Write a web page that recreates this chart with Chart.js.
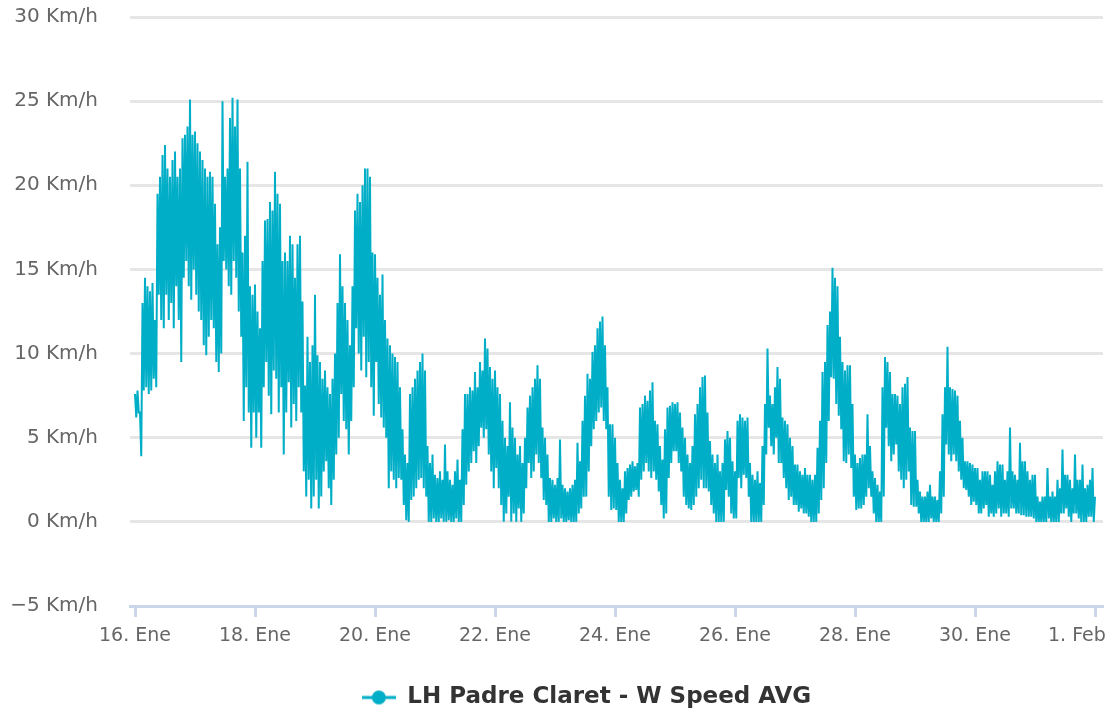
<!DOCTYPE html>
<html><head><meta charset="utf-8">
<script src="https://cdn.jsdelivr.net/npm/chart.js@4/dist/chart.umd.min.js"></script>
<style>html,body{margin:0;padding:0;background:#fff}#wrap{width:1111px;height:713px;position:relative}</style>
</head><body><div id="wrap"><canvas id="c" width="1111" height="713"></canvas></div>
<script>
const seriesName = "LH Padre Claret - W Speed AVG";
const tickLabels = ["16. Ene","18. Ene","20. Ene","22. Ene","24. Ene","26. Ene","28. Ene","30. Ene","1. Feb"];
const tickDays = [0,2,4,6,8,10,12,14,16];
const yTicks = [-5,0,5,10,15,20,25,30];
const stepHours = 1; // hourly readings from 16. Ene 00:00
// highest reading within each hour (Km/h)
const speedMax = [
 7.6,7.8,6.5,13.0,14.5,14.0,13.7,14.2,12.0,19.5,20.5,21.8,
 22.4,21.0,20.5,21.5,22.0,20.5,21.0,22.8,23.0,23.5,25.1,23.0,
 23.2,22.5,22.0,21.5,21.0,20.5,20.8,20.5,18.9,16.5,17.5,25.0,
 20.5,21.0,24.0,25.2,23.5,25.1,21.0,16.0,17.0,21.4,14.0,13.5,
 14.1,12.5,11.5,15.5,17.9,18.0,19.0,18.5,20.8,19.5,18.9,15.5,
 16.0,15.5,17.0,16.5,14.5,16.5,17.0,13.1,8.1,11.0,9.5,10.5,
 13.5,9.9,9.5,8.5,9.0,8.0,7.6,8.5,10.0,13.0,15.9,14.0,
 13.0,12.0,10.5,14.0,18.5,19.5,19.0,20.0,21.0,21.0,20.5,16.0,
 15.9,14.5,13.5,14.7,12.0,10.9,10.5,10.0,9.8,9.5,8.0,5.5,
 4.0,3.5,7.6,8.0,8.5,9.0,9.5,10.0,9.0,4.5,3.5,4.0,
 2.8,2.6,3.0,2.5,4.6,3.0,2.5,2.2,3.0,3.7,2.5,5.5,
 7.6,7.6,8.0,7.8,8.9,8.0,9.5,9.0,10.9,10.3,9.2,8.5,
 9.0,8.0,7.6,6.0,5.0,4.5,7.1,5.6,5.0,4.0,4.5,3.5,
 5.0,6.8,7.5,8.0,8.5,9.3,8.5,5.6,5.0,4.0,2.6,2.5,
 2.2,2.6,4.9,2.2,2.0,1.8,2.0,2.2,2.5,4.7,3.6,6.0,
 7.5,8.8,8.5,10.1,10.5,11.5,11.9,12.2,10.5,8.0,5.8,5.8,
 5.0,3.5,2.5,2.0,3.0,3.2,3.4,3.6,3.3,3.5,6.8,7.0,
 7.5,7.2,7.8,8.3,6.0,5.8,4.5,3.7,5.5,6.8,6.9,7.1,
 7.0,7.1,6.5,5.6,5.0,4.0,3.5,4.5,6.4,7.0,8.0,8.6,
 8.7,6.5,4.8,4.0,3.5,4.0,3.0,3.5,4.9,5.4,5.0,3.6,
 3.0,6.0,6.4,6.2,6.0,6.2,3.5,2.8,2.5,3.0,2.3,4.5,
 7.0,10.3,7.5,7.0,8.0,9.2,8.5,6.2,6.0,5.8,5.0,4.5,
 3.4,3.4,3.0,2.8,3.2,2.8,2.8,2.5,2.8,4.4,6.0,8.9,
 9.5,11.7,12.5,15.1,14.5,14.0,11.0,9.5,9.0,9.3,9.3,7.0,
 4.0,3.5,3.8,4.0,4.0,6.4,4.5,3.0,2.6,2.2,1.8,8.0,
 9.8,9.5,8.9,7.6,7.6,7.5,7.0,8.0,8.2,8.6,5.6,5.4,
 5.4,2.5,1.8,1.5,1.5,1.8,2.2,1.5,1.5,1.3,3.0,6.4,
 8.0,10.4,8.0,7.9,7.8,7.5,6.0,5.0,3.6,3.6,3.5,3.4,
 3.2,3.2,2.5,3.0,3.0,3.0,2.8,2.2,3.0,3.6,3.4,3.4,
 2.5,3.0,5.6,3.0,2.8,2.5,4.7,3.6,3.6,3.0,2.5,2.8,
 2.8,1.5,1.2,1.5,1.5,3.2,1.5,1.8,1.5,2.5,2.0,4.3,
 2.8,2.8,2.5,2.0,4.0,2.5,2.5,3.4,2.0,2.2,2.5,3.2,1.5
];
// lowest reading within each hour (Km/h)
const speedMin = [
 6.2,6.5,3.9,7.8,8.0,7.6,7.8,8.5,8.0,13.5,12.0,11.5,
 13.5,12.0,13.0,11.5,14.0,12.0,9.5,14.5,15.5,14.0,13.2,15.0,
 13.5,12.5,12.0,10.5,9.9,11.0,12.0,11.5,9.5,8.9,10.0,15.5,
 15.0,14.0,13.5,15.5,14.5,12.5,11.0,6.0,8.0,6.5,4.4,6.5,
 5.0,6.5,4.4,8.0,9.5,7.5,6.4,9.0,8.5,6.5,8.0,4.0,
 6.5,8.3,5.6,7.0,6.0,8.0,6.5,3.0,1.5,2.5,0.8,1.5,
 2.5,0.8,1.5,3.0,3.6,2.0,1.0,2.5,4.0,5.0,7.6,6.0,
 5.5,4.0,6.0,8.0,11.5,10.0,9.0,11.0,8.6,9.5,8.0,6.3,
 9.5,7.0,6.2,5.6,5.0,2.0,3.0,2.5,2.0,2.6,2.5,1.0,
 0.1,0.0,1.3,1.5,2.0,2.5,2.6,2.0,1.5,0.0,0.0,0.2,
 0.0,0.0,0.2,0.0,0.0,0.1,0.0,0.0,0.2,0.0,0.0,1.0,
 2.2,3.0,3.5,4.2,3.5,4.5,5.6,5.0,5.5,4.0,3.0,2.0,
 3.2,2.0,1.0,0.0,0.5,1.5,0.0,0.5,0.0,0.8,0.0,0.5,
 2.0,3.5,2.6,3.0,4.0,3.5,2.6,1.3,1.0,0.0,0.0,0.2,
 0.0,0.0,0.2,0.0,0.0,0.1,0.0,0.0,0.0,0.5,0.8,1.5,
 1.5,3.0,4.5,5.5,6.0,6.5,6.8,6.0,5.5,1.5,0.7,0.8,
 0.7,0.0,0.0,0.0,0.5,1.3,1.5,1.8,1.9,1.5,2.5,3.0,
 3.5,3.0,2.6,3.0,2.5,1.8,1.0,0.2,0.5,2.6,3.5,4.2,
 4.2,3.5,3.0,1.5,1.0,0.8,0.7,1.0,1.5,2.0,2.5,2.0,
 2.0,1.8,1.0,0.5,0.0,0.0,0.0,0.0,1.9,1.5,0.5,0.2,
 0.2,2.6,2.0,2.8,2.6,1.5,0.0,0.0,0.0,0.0,0.0,1.0,
 4.0,5.6,4.5,4.0,5.0,3.5,3.5,2.6,2.0,1.3,1.5,1.0,
 1.0,0.6,0.8,0.5,0.5,0.3,0.0,0.0,0.0,0.5,1.3,2.0,
 3.5,6.0,8.6,8.5,7.0,6.3,5.5,3.6,3.5,4.0,3.2,1.5,
 0.7,0.8,0.8,1.0,1.5,2.0,1.5,0.5,0.0,0.0,0.0,1.5,
 5.6,4.5,3.6,4.0,4.6,3.0,2.5,2.0,2.5,3.0,1.0,0.9,
 0.9,0.5,0.0,0.0,0.0,0.0,0.2,0.0,0.0,0.0,0.5,1.5,
 4.6,4.0,3.6,4.0,3.6,3.0,2.5,2.0,1.9,1.5,1.0,1.2,
 1.0,0.5,0.5,0.8,1.0,0.3,0.5,0.3,0.5,0.8,0.3,0.5,
 0.5,0.3,0.8,0.8,0.5,0.5,0.4,0.4,0.3,0.3,0.3,0.2,
 0.0,0.0,0.0,0.0,0.0,0.2,0.0,0.0,0.0,0.0,0.5,0.5,
 0.8,0.3,0.0,0.5,0.5,0.2,0.0,0.0,0.0,0.3,0.3,0.0,0.5
];

const lineColor = '#00aec7';
// each hour: its maximum at the start of the hour, its minimum half an hour later
const points = [];
speedMax.forEach((v, i) => {
  const t = i * stepHours / 24;
  points.push({x: t, y: v});
  if (i < speedMax.length - 1) points.push({x: t + stepHours / 48, y: speedMin[i]});
});

// legend symbol: line with a circle
const sym = document.createElement('canvas');
sym.width = 34; sym.height = 16;
(function(){
  const g = sym.getContext('2d');
  g.strokeStyle = lineColor; g.lineWidth = 3;
  g.beginPath(); g.moveTo(0, 8); g.lineTo(34, 8); g.stroke();
  g.fillStyle = lineColor;
  g.beginPath(); g.arc(17, 8, 7, 0, Math.PI * 2); g.fill();
})();

const legendShift = {
  id: 'legendShift',
  afterLayout(chart) {
    const lg = chart.legend;
    const o = chart.options.plugins.legendShift;
    lg.left += o.dx; lg.right += o.dx; lg.top += o.dy; lg.bottom += o.dy;
  }
};

new Chart(document.getElementById('c'), {
  type: 'line',
  data: {
    datasets: [{
      label: seriesName,
      data: points,
      borderColor: lineColor,
      backgroundColor: lineColor,
      borderWidth: 2,
      pointRadius: 0,
      tension: 0,
      fill: false
    }]
  },
  options: {
    responsive: false,
    animation: false,
    layout: { padding: { left: 0, right: 8, top: 17, bottom: 0 } },
    plugins: {
      legendShift: { dx: 35, dy: 6 },
      tooltip: { enabled: false },
      legend: {
        position: 'bottom',
        labels: {
          usePointStyle: true,
          pointStyleWidth: 34,
          boxHeight: 16,
          padding: 10,
          color: '#333333',
          font: { family: 'DejaVu Sans', size: 23, weight: 'bold' },
          generateLabels(chart) {
            return chart.data.datasets.map((ds, i) => ({
              text: ds.label, pointStyle: sym, fillStyle: lineColor,
              strokeStyle: lineColor, lineWidth: 0, datasetIndex: i, hidden: false,
              fontColor: '#333333'
            }));
          }
        }
      }
    },
    scales: {
      x: {
        type: 'linear',
        min: -5 / 60,
        max: 16 + 8 / 60,
        afterBuildTicks(scale) { scale.ticks = tickDays.map(v => ({value: v})); },
        afterFit(scale) { scale.paddingLeft = 0; scale.paddingRight = 0; scale.height = 64; },
        ticks: {
          padding: 8,
          maxRotation: 0,
          autoSkip: false,
          color: '#666666',
          font: { family: 'DejaVu Sans', size: 19 },
          callback(v) {
            const i = tickDays.indexOf(v);
            if (i < 0) return '';
            return i === tickDays.length - 1 ? tickLabels[i] + '      ' : tickLabels[i];
          }
        },
        grid: { drawOnChartArea: false, drawTicks: true, tickLength: 11, tickWidth: 3, tickColor: '#ccd6eb' },
        border: { display: true, color: '#ccd6eb', width: 3 }
      },
      y: {
        min: -5, max: 30,
        afterBuildTicks(scale) { scale.ticks = yTicks.map(v => ({value: v})); },
        afterFit(scale) { scale.width = 130; scale.paddingTop = 0; scale.paddingBottom = 0; },
        ticks: {
          padding: 32,
          color: '#666666',
          font: { family: 'DejaVu Sans', size: 20 },
          callback(v) { return (v < 0 ? '\u2212' + Math.abs(v) : v) + ' Km/h'; }
        },
        grid: { color: '#e6e6e6', lineWidth: 3, drawTicks: false },
        border: { display: false }
      }
    }
  },
  plugins: [legendShift]
});
</script>
</body></html>
